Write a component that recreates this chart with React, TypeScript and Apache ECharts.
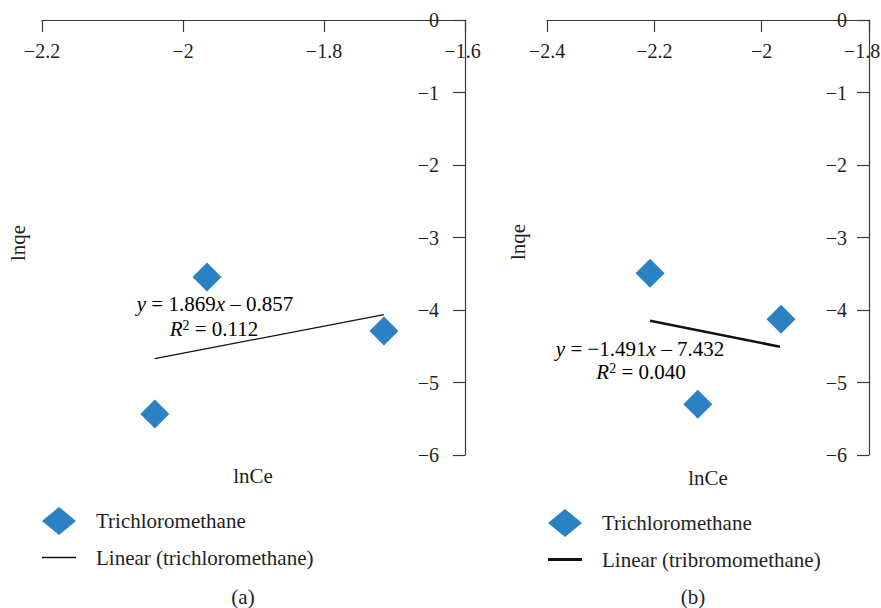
import React, { useEffect, useRef } from 'react';
import * as echarts from 'echarts';

// Panel (a)
const pointsA: number[][] = [
  [-1.966, -3.545],
  [-1.715, -4.29],
  [-2.04, -5.434],
];
const trendA: number[][] = [
  [-2.04, -4.67],
  [-1.715, -4.065],
];
const xRangeA = [-2.2, -1.6];

// Panel (b)
const pointsB: number[][] = [
  [-2.208, -3.494],
  [-1.964, -4.128],
  [-2.119, -5.3],
];
const trendB: number[][] = [
  [-2.208, -4.148],
  [-1.966, -4.506],
];
const xRangeB = [-2.4, -1.8];

const yRange = [-6, 0];
const scatterName = 'Trichloromethane';
const lineNameA = 'Linear (trichloromethane)';
const lineNameB = 'Linear (tribromomethane)';
const eqA = ['1.869', '0.857', '0.112'];
const eqB = ['1.491', '7.432', '0.040'];

const FONT = '"Liberation Serif", "DejaVu Serif", serif';
const TXT = '#231f20';
const AX = '#3a3a3a';
const BLUE = '#2a81c4';
const TICK_FS = 20;
const FS = 21;

const fmtNum = (v: number) => String(Math.round(v * 10) / 10).replace('-', '\u2212');
const fmtY = (v: number) => String(Math.round(v)).replace('-', '\u2212');

function xAxisCfg(idx: number, range: number[], lastPad: number) {
  return {
    type: 'value',
    gridIndex: idx,
    position: 'top',
    min: range[0],
    max: range[1],
    interval: 0.2,
    splitLine: { show: false },
    axisLine: { show: true, onZero: false, lineStyle: { color: AX, width: 1.2 } },
    axisTick: { show: true, inside: true, length: 12, lineStyle: { color: AX, width: 1.2 } },
    axisLabel: {
      inside: true,
      margin: 21,
      formatter: (v: number) =>
        Math.abs(v - range[1]) < 1e-6 ? `{e|${fmtNum(v)}}` : fmtNum(v),
      color: TXT,
      fontFamily: FONT,
      fontSize: TICK_FS,
      rich: {
        e: { fontFamily: FONT, fontSize: TICK_FS, color: TXT, padding: [0, lastPad, 0, 0] },
      },
    },
  };
}

function yAxisCfg(idx: number, margin: number) {
  return {
    type: 'value',
    gridIndex: idx,
    position: 'right',
    min: yRange[0],
    max: yRange[1],
    interval: 1,
    splitLine: { show: false },
    axisLine: { show: true, onZero: false, lineStyle: { color: AX, width: 1.2 } },
    axisTick: { show: true, inside: true, length: 12, lineStyle: { color: AX, width: 1.2 } },
    axisLabel: {
      inside: true,
      margin,
      formatter: fmtY,
      color: TXT,
      fontFamily: FONT,
      fontSize: TICK_FS,
    },
  };
}

const rich = {
  i: { fontStyle: 'italic', fontFamily: FONT, fontSize: FS, color: TXT },
  n: { fontFamily: FONT, fontSize: FS, color: TXT },
  s: { fontFamily: FONT, fontSize: 14, color: TXT, verticalAlign: 'top', padding: [0, 0, 8, 0] },
};

function eqText(x: number, y: number, slope: string, icpt: string, neg: boolean) {
  return {
    type: 'text',
    x,
    y,
    style: {
      text: `{i|y}{n| = ${neg ? '\u2212' : ''}${slope}}{i|x}{n| \u2013 ${icpt}}`,
      rich,
      textAlign: 'center',
      textVerticalAlign: 'middle',
    },
  };
}
function r2Text(x: number, y: number, r2: string) {
  return {
    type: 'text',
    x,
    y,
    style: {
      text: `{i|R}{s|2}{n| = ${r2}}`,
      rich,
      textAlign: 'center',
      textVerticalAlign: 'middle',
    },
  };
}
function plainText(x: number, y: number, text: string, rotation = 0) {
  return {
    type: 'text',
    x,
    y,
    rotation,
    style: {
      text,
      fontFamily: FONT,
      fontSize: FS,
      fill: TXT,
      textAlign: 'center',
      textVerticalAlign: 'middle',
    },
  };
}

export default function App() {
  const ref = useRef<HTMLDivElement>(null);
  useEffect(() => {
    if (!ref.current) return;
    const chart = echarts.init(ref.current, undefined, { renderer: 'svg' });
    const legendText = {
      fontFamily: FONT,
      fontSize: FS,
      color: TXT,
      padding: [0, 0, 0, 15],
    };
    chart.setOption({
      animation: false,
      backgroundColor: '#ffffff',
      grid: [
        { left: 42, top: 20, width: 423, height: 435, outerBoundsMode: 'none', containLabel: false },
        { left: 547, top: 20, width: 322, height: 435, outerBoundsMode: 'none', containLabel: false },
      ],
      xAxis: [xAxisCfg(0, xRangeA, 5), xAxisCfg(1, xRangeB, 14)],
      yAxis: [yAxisCfg(0, 26), yAxisCfg(1, 22)],
      legend: [
        {
          orient: 'vertical',
          left: 42,
          top: 507,
          padding: 0,
          itemWidth: 34,
          itemHeight: 28,
          itemGap: 12,
          selectedMode: false,
          textStyle: legendText,
          data: [
            { name: scatterName, icon: 'diamond' },
            { name: lineNameA, icon: 'path://M0,0H34V1.3H0Z' },
          ],
        },
        {
          orient: 'vertical',
          left: 548,
          top: 509,
          padding: 0,
          itemWidth: 34,
          itemHeight: 28,
          itemGap: 12,
          selectedMode: false,
          textStyle: legendText,
          data: [
            { name: scatterName, icon: 'diamond' },
            { name: lineNameB, icon: 'path://M0,0H34V2.8H0Z' },
          ],
        },
      ],
      series: [
        {
          type: 'scatter',
          name: scatterName,
          xAxisIndex: 0,
          yAxisIndex: 0,
          symbol: 'diamond',
          symbolSize: 29,
          itemStyle: { color: BLUE, opacity: 1 },
          data: pointsA,
          z: 3,
        },
        {
          type: 'line',
          name: lineNameA,
          xAxisIndex: 0,
          yAxisIndex: 0,
          symbol: 'none',
          lineStyle: { color: '#111111', width: 1.3 },
          itemStyle: { color: '#111111' },
          data: trendA,
          z: 2,
        },
        {
          type: 'scatter',
          name: scatterName,
          xAxisIndex: 1,
          yAxisIndex: 1,
          symbol: 'diamond',
          symbolSize: 29,
          itemStyle: { color: BLUE, opacity: 1 },
          data: pointsB,
          z: 3,
        },
        {
          type: 'line',
          name: lineNameB,
          xAxisIndex: 1,
          yAxisIndex: 1,
          symbol: 'none',
          lineStyle: { color: '#111111', width: 2.6 },
          itemStyle: { color: '#111111' },
          data: trendB,
          z: 2,
        },
      ],
      graphic: [
        eqText(215, 304, eqA[0], eqA[1], false),
        r2Text(214, 329, eqA[2]),
        eqText(640, 349, eqB[0], eqB[1], true),
        r2Text(641, 372, eqB[2]),
        plainText(18, 243, 'lnqe', Math.PI / 2),
        plainText(518, 242, 'lnqe', Math.PI / 2),
        plainText(253, 476, 'lnCe'),
        plainText(708, 478, 'lnCe'),
        plainText(243, 597, '(a)'),
        plainText(693, 597, '(b)'),
      ],
    });
    return () => chart.dispose();
  }, []);
  return (
    <div
      ref={ref}
      style={{ position: 'fixed', left: 0, top: 0, width: 881, height: 608, background: '#fff' }}
    />
  );
}
